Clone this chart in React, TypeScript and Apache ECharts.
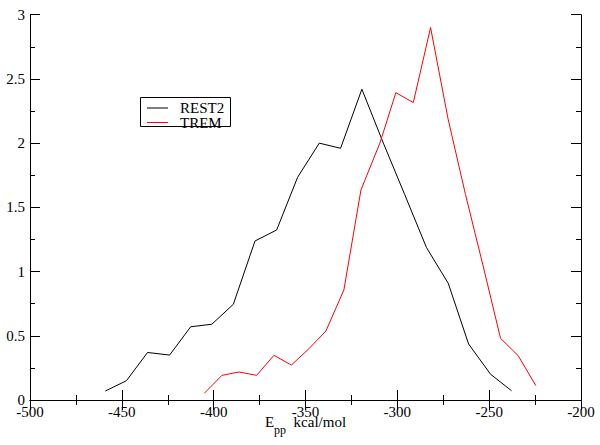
import React, { useEffect, useRef } from "react";
import * as echarts from "echarts";

const rest2X = [-459, -447.5, -436, -424, -412.5, -401, -389.3, -377.5, -365.7, -354.3, -342.5, -330.9, -319.3, -307.6, -296, -284.1, -272.3, -261.2, -249.2, -237.8];
const rest2Y = [0.07, 0.15, 0.37, 0.35, 0.57, 0.59, 0.745, 1.238, 1.324, 1.734, 2.0, 1.96, 2.42, 2.0, 1.6, 1.186, 0.909, 0.436, 0.2, 0.072];

const tremX = [-405.1, -395.5, -386.2, -376.6, -367.2, -357.7, -348.1, -338.9, -329.1, -319.8, -309.5, -300.8, -291.3, -281.9, -272.4, -262.9, -253.4, -243.8, -234.2, -224.6];
const tremY = [0.052, 0.192, 0.218, 0.192, 0.348, 0.272, 0.4, 0.537, 0.857, 1.636, 2.0, 2.393, 2.316, 2.9, 2.19, 1.6, 1.05, 0.48, 0.345, 0.112];

const seriesNames = ["REST2", "TREM"];
const seriesColors = ["#000000", "#ff0000"];
const xRange = [-500, -200];
const yRange = [0, 3];

const FONT = "Liberation Serif";

export default function App() {
  const ref = useRef<HTMLDivElement>(null);
  useEffect(() => {
    if (!ref.current) return;
    const chart = echarts.init(ref.current, null, { renderer: "svg" });
    const axisLine = { show: true, lineStyle: { color: "#000", width: 1 } };
    const baseX = {
      type: "value",
      min: xRange[0],
      max: xRange[1],
      interval: 50,
      axisLine,
      axisTick: { show: true, inside: true, length: 10, lineStyle: { color: "#000" } },
      minorTick: { show: true, splitNumber: 2, length: 5, lineStyle: { color: "#000" } },
      splitLine: { show: false },
      minorSplitLine: { show: false },
    };
    const baseY = {
      type: "value",
      min: yRange[0],
      max: yRange[1],
      interval: 0.5,
      axisLine,
      axisTick: { show: true, inside: true, length: 10, lineStyle: { color: "#000" } },
      minorTick: { show: true, splitNumber: 2, length: 5, lineStyle: { color: "#000" } },
      splitLine: { show: false },
      minorSplitLine: { show: false },
    };
    const xs = [rest2X, tremX];
    const ys = [rest2Y, tremY];
    const legendRowsY = [108, 122.5];
    const legendGraphics: any[] = [
      {
        type: "rect",
        shape: { x: 140.5, y: 97.5, width: 90, height: 29 },
        style: { fill: "#fff", stroke: "#000", lineWidth: 1 },
        silent: true,
        z: 10,
      },
    ];
    seriesNames.forEach((n, i) => {
      legendGraphics.push({
        type: "line",
        shape: { x1: 147, y1: legendRowsY[i], x2: 168, y2: legendRowsY[i] },
        style: { stroke: seriesColors[i], lineWidth: 1 },
        silent: true,
        z: 11,
      });
      legendGraphics.push({
        type: "text",
        x: 180,
        y: legendRowsY[i],
        style: {
          text: n,
          fill: "#000",
          font: "15px " + FONT,
          fontFamily: FONT,
          fontSize: 15,
          verticalAlign: "middle",
          align: "left",
        },
        silent: true,
        z: 11,
      });
    });
    chart.setOption({
      animation: false,
      backgroundColor: "#fff",
      color: seriesColors,
      textStyle: { fontFamily: FONT },
      grid: {
        left: 30,
        right: 19,
        top: 14.7,
        bottom: 45,
        containLabel: false,
        outerBoundsMode: "none",
      },
      graphic: legendGraphics,
      xAxis: [
        {
          ...baseX,
          position: "bottom",
          axisLabel: {
            show: true,
            fontFamily: FONT,
            fontSize: 15,
            color: "#000",
            margin: 4,
          },
          name: "{e|E}{sub|pp}{n|  kcal/mol}",
          nameLocation: "middle",
          nameGap: 6.5,
          nameMoveOverlap: false,
          nameTextStyle: {
            fontFamily: FONT,
            fontSize: 15,
            color: "#000",
            rich: {
              e: { fontFamily: FONT, fontSize: 15, color: "#000", lineHeight: 30 },
              n: { fontFamily: FONT, fontSize: 15, color: "#000", lineHeight: 30 },
              sub: {
                fontFamily: FONT,
                fontSize: 12,
                color: "#000",
                lineHeight: 12,
                verticalAlign: "top",
                padding: [17.4, 0, 0, 0],
              },
            },
          },
        },
        {
          ...baseX,
          position: "top",
          axisLabel: { show: false },
        },
      ],
      yAxis: [
        {
          ...baseY,
          position: "left",
          axisLabel: {
            show: true,
            fontFamily: FONT,
            fontSize: 15,
            color: "#000",
            margin: 5,
          },
        },
        {
          ...baseY,
          position: "right",
          axisLabel: { show: false },
        },
      ],
      series: seriesNames.map((n, i) => ({
        name: n,
        type: "line",
        xAxisIndex: 0,
        yAxisIndex: 0,
        data: xs[i].map((x, j) => [x, ys[i][j]]),
        showSymbol: false,
        symbol: "none",
        itemStyle: { color: seriesColors[i] },
        lineStyle: { color: seriesColors[i], width: 1 },
      })),
    });
    return () => chart.dispose();
  }, []);
  return (
    <div
      ref={ref}
      style={{ position: "fixed", left: 0, top: 0, width: 600, height: 445, background: "#fff" }}
    />
  );
}
